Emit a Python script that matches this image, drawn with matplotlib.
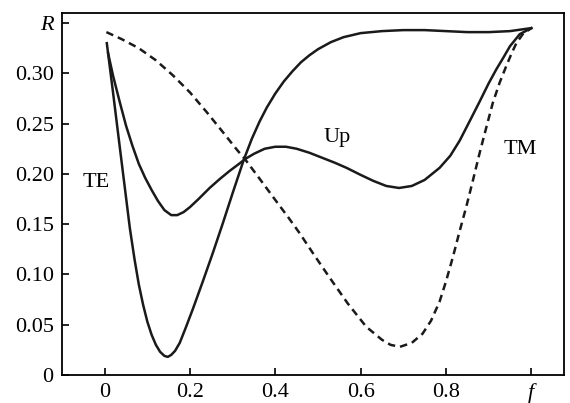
import matplotlib
matplotlib.use("Agg")
import matplotlib.pyplot as plt

plt.rcParams['font.family'] = ['Liberation Serif', 'DejaVu Serif']

# TE curve (solid, deep minimum)
te_f = [0.005, 0.019, 0.035, 0.047, 0.059, 0.07, 0.08, 0.09, 0.10, 0.11,
        0.12, 0.13, 0.14, 0.148, 0.156, 0.165, 0.176, 0.19, 0.207, 0.23,
        0.254, 0.277, 0.30, 0.326, 0.345, 0.363, 0.38, 0.40, 0.42, 0.44,
        0.46, 0.48, 0.50, 0.53, 0.56, 0.60, 0.65, 0.70, 0.75, 0.80,
        0.85, 0.90, 0.95, 1.0]
te_r = [0.330, 0.283, 0.228, 0.187, 0.146, 0.115, 0.090, 0.070, 0.053, 0.040,
        0.030, 0.023, 0.019, 0.018, 0.020, 0.024, 0.032, 0.047, 0.066, 0.093,
        0.122, 0.151, 0.181, 0.214, 0.235, 0.252, 0.266, 0.280, 0.292, 0.302,
        0.311, 0.318, 0.324, 0.331, 0.336, 0.340, 0.342, 0.343, 0.343, 0.342,
        0.341, 0.341, 0.342, 0.345]

# Up curve (solid)
up_f = [0.008, 0.02, 0.035, 0.05, 0.065, 0.08, 0.095, 0.11, 0.125, 0.14,
        0.156, 0.17, 0.185, 0.20, 0.22, 0.246, 0.27, 0.293, 0.315, 0.33,
        0.35, 0.375, 0.40, 0.425, 0.45, 0.48, 0.51, 0.54, 0.567, 0.60,
        0.63, 0.66, 0.69, 0.72, 0.75, 0.785, 0.81, 0.832, 0.855, 0.879,
        0.90, 0.918, 0.935, 0.95, 0.973, 1.0]
up_r = [0.320, 0.297, 0.272, 0.248, 0.228, 0.210, 0.196, 0.184, 0.173, 0.164,
        0.159, 0.159, 0.162, 0.167, 0.175, 0.186, 0.195, 0.203, 0.210, 0.215,
        0.220, 0.225, 0.227, 0.227, 0.225, 0.221, 0.216, 0.211, 0.206, 0.199,
        0.193, 0.188, 0.186, 0.188, 0.194, 0.206, 0.218, 0.233, 0.252, 0.272,
        0.290, 0.304, 0.316, 0.327, 0.339, 0.345]

# TM curve (dashed)
tm_f = [0.004, 0.04, 0.08, 0.12, 0.16, 0.20, 0.24, 0.28, 0.31, 0.33,
        0.36, 0.40, 0.43, 0.457, 0.49, 0.527, 0.57, 0.613, 0.65, 0.67,
        0.692, 0.72, 0.745, 0.765, 0.785, 0.80, 0.816, 0.832, 0.848, 0.864,
        0.879, 0.895, 0.91, 0.926, 0.942, 0.955, 0.965, 0.98, 1.0]
tm_r = [0.341, 0.334, 0.325, 0.313, 0.298, 0.281, 0.261, 0.240, 0.224, 0.214,
        0.197, 0.174, 0.157, 0.141, 0.120, 0.097, 0.071, 0.048, 0.035, 0.030,
        0.028, 0.032, 0.041, 0.054, 0.073, 0.093, 0.117, 0.143, 0.168, 0.195,
        0.221, 0.247, 0.271, 0.291, 0.308, 0.321, 0.330, 0.339, 0.345]

xticks = [0, 0.2, 0.4, 0.6, 0.8, 1.0]
xlabels = ["0", "0.2", "0.4", "0.6", "0.8", "f"]
yticks = [0, 0.05, 0.10, 0.15, 0.20, 0.25, 0.30, 0.35]
ylabels = ["0", "0.05", "0.10", "0.15", "0.20", "0.25", "0.30", "R"]

fig = plt.figure(figsize=(5.7, 4.03), dpi=100)
ax = fig.add_axes([0.1088, 0.0695, 0.8802, 0.8982])

ax.plot(te_f, te_r, color='#1a1a1a', lw=1.8, solid_joinstyle='round')
ax.plot(up_f, up_r, color='#1a1a1a', lw=1.8, solid_joinstyle='round')
ax.plot(tm_f, tm_r, color='#1a1a1a', lw=1.8, dashes=(3.0, 2.0))

ax.text(-0.021, 0.191, "TE", fontsize=16, ha='center', va='center')
ax.text(0.546, 0.236, "Up", fontsize=16, ha='center', va='center')
ax.text(0.973, 0.224, "TM", fontsize=16, ha='center', va='center')

ax.set_xlim(-0.1, 1.076)
ax.set_ylim(0, 0.36)
ax.set_xticks(xticks)
xl = ax.set_xticklabels(xlabels, fontsize=16)
xl[-1].set_style('italic')
ax.set_yticks(yticks)
yl = ax.set_yticklabels(ylabels, fontsize=16)
yl[-1].set_style('italic')
ax.tick_params(direction='in', length=5, width=1.2, pad=6)
for s in ax.spines.values():
    s.set_linewidth(1.3)

fig.savefig("out.png", dpi=100)
